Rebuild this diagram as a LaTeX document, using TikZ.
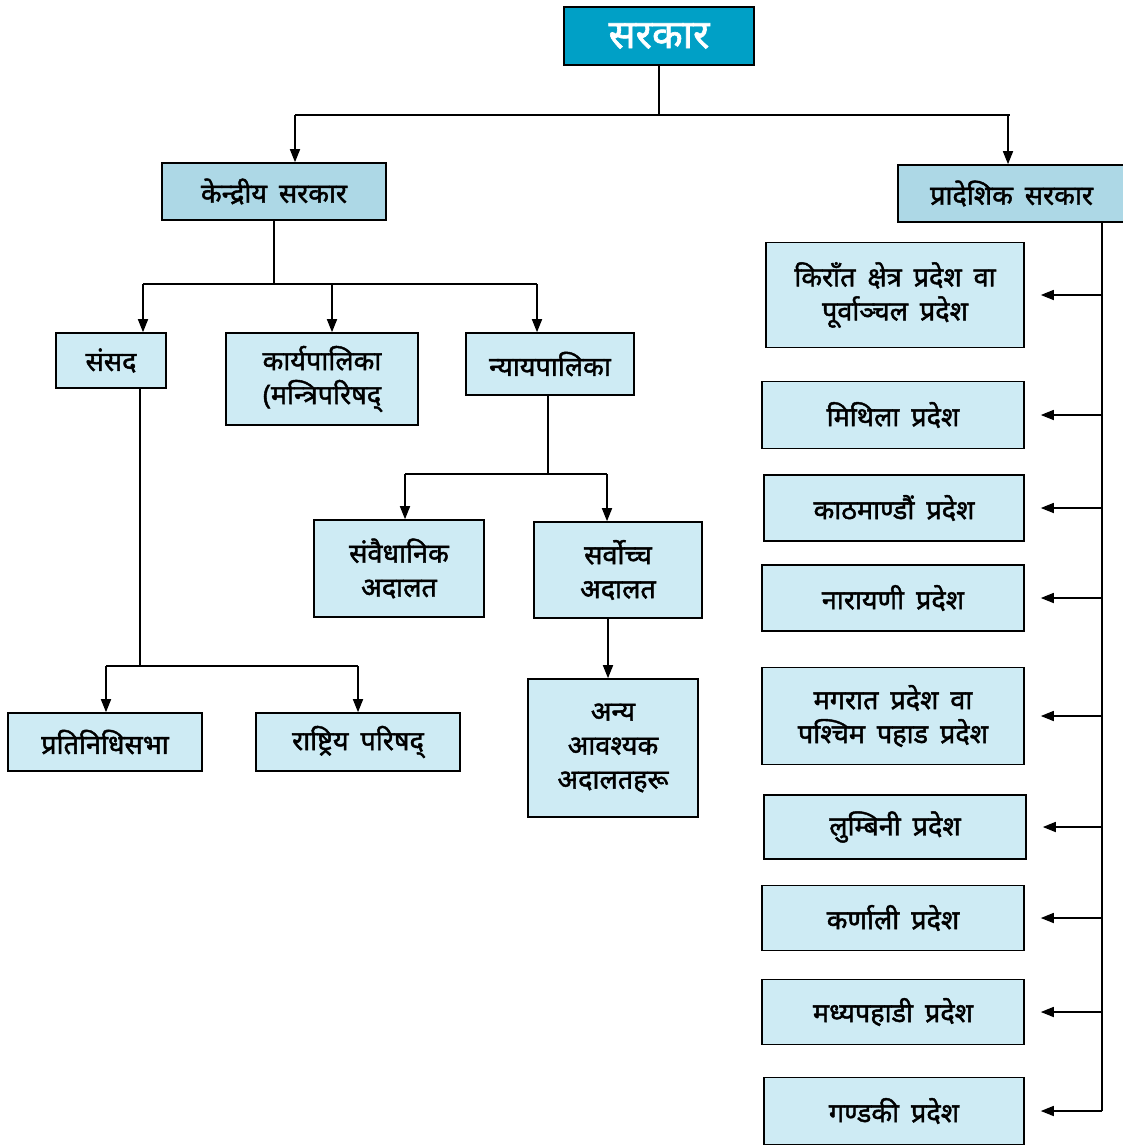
\documentclass[tikz,border=0pt]{standalone}
\usepackage{fontspec}
\newfontfamily\deva[Script=Devanagari,FakeBold=1.6,WordSpace=1.7]{Noto Sans}
\usetikzlibrary{arrows.meta}
\definecolor{topblue}{RGB}{0,160,198}
\definecolor{midblue}{RGB}{173,216,230}
\definecolor{paleblue}{RGB}{206,235,244}
\tikzset{box/.style={draw, line width=1.6pt, fill=paleblue, inner sep=0pt, align=center,
    font=\deva\fontsize{27}{34}\selectfont}}
\tikzset{arr/.style={-{Triangle[length=13pt,width=10pt]}}}

\begin{document}
\begin{tikzpicture}[x=1pt,y=-1pt,line width=1.6pt]
  \useasboundingbox (0,0) rectangle (1123,1146);

  % top levels
  \node[box, fill=topblue, text=white, minimum width=190, minimum height=58,
    font=\deva\fontsize{40}{40}\selectfont] (sarkar) at (659,36) {सरकार};
  \node[box, fill=midblue, minimum width=224, minimum height=57] (kendriya) at (274,191.5) {केन्द्रीय सरकार};
  \node[box, fill=midblue, minimum width=227, minimum height=57] (pradeshik) at (1011.5,193.5) {प्रादेशिक सरकार};

  % central government
  \node[box, minimum width=110, minimum height=55] (sansad) at (111,360.5) {संसद};
  \node[box, minimum width=192, minimum height=92] (karya) at (322,379) {कार्यपालिका\\(मन्त्रिपरिषद्};
  \node[box, minimum width=168, minimum height=62] (nyaya) at (550,364) {न्यायपालिका};
  \node[box, minimum width=170, minimum height=97] (samvai) at (399,568.5) {संवैधानिक\\अदालत};
  \node[box, minimum width=168, minimum height=96] (sarvo) at (618,570) {सर्वोच्च\\अदालत};
  \node[box, minimum width=170, minimum height=138] (anya) at (613,748) {अन्य\\आवश्यक\\अदालतहरू};
  \node[box, minimum width=194, minimum height=58] (pratini) at (105,742) {प्रतिनिधिसभा};
  \node[box, minimum width=204, minimum height=58] (rastriya) at (358,742) {राष्ट्रिय परिषद्};

  % provinces
  \node[box, minimum width=258, minimum height=105] (kirat) at (895,295) {किराँत क्षेत्र प्रदेश वा\\पूर्वाञ्चल प्रदेश};
  \node[box, minimum width=262, minimum height=67] (mithila) at (893,415) {मिथिला प्रदेश};
  \node[box, minimum width=260, minimum height=66] (kathmandu) at (894,508) {काठमाण्डौं प्रदेश};
  \node[box, minimum width=262, minimum height=66] (narayani) at (893,598) {नारायणी प्रदेश};
  \node[box, minimum width=262, minimum height=97] (magarat) at (893,716) {मगरात प्रदेश वा\\पश्चिम पहाड प्रदेश};
  \node[box, minimum width=262, minimum height=64] (lumbini) at (895,827) {लुम्बिनी प्रदेश};
  \node[box, minimum width=262, minimum height=65] (karnali) at (893,918) {कर्णाली प्रदेश};
  \node[box, minimum width=262, minimum height=65] (madhya) at (893,1012) {मध्यपहाडी प्रदेश};
  \node[box, minimum width=260, minimum height=67] (gandaki) at (894,1111) {गण्डकी प्रदेश};

  % sarkar split
  \coordinate (b1l) at (295,115);
  \coordinate (b1r) at (1008,115);
  \draw (sarkar.south) -- (sarkar.south |- b1l);
  \draw (b1l) -- ([xshift=2pt]b1r);
  \draw[arr] (b1l) -- (b1l |- kendriya.north);
  \draw[arr] (b1r) -- (b1r |- pradeshik.north);

  % kendriya split
  \coordinate (b2l) at (143,284);
  \coordinate (b2m) at (332,284);
  \coordinate (b2r) at (537,284);
  \draw (kendriya.south) -- (kendriya.south |- b2l);
  \draw (b2l) -- (b2r);
  \draw[arr] (b2l) -- (b2l |- sansad.north);
  \draw[arr] (b2m) -- (b2m |- karya.north);
  \draw[arr] (b2r) -- (b2r |- nyaya.north);

  % sansad split
  \coordinate (s1) at (140,388);
  \coordinate (b3l) at (106,666);
  \coordinate (b3r) at (358,666);
  \draw (s1) -- (s1 |- b3l);
  \draw (b3l) -- (b3r);
  \draw[arr] (b3l) -- (b3l |- pratini.north);
  \draw[arr] (b3r) -- (b3r |- rastriya.north);

  % nyayapalika split
  \coordinate (n1) at (548,395);
  \coordinate (b4l) at (405,474);
  \coordinate (b4r) at (607,474);
  \draw (n1) -- (n1 |- b4l);
  \draw (b4l) -- (b4r);
  \draw[arr] (b4l) -- (b4l |- samvai.north);
  \draw[arr] (b4r) -- (b4r |- sarvo.north);
  \coordinate (v1) at (608,618);
  \draw[arr] (v1) -- (v1 |- anya.north);

  % province trunk
  \coordinate (ptop) at (1102,222);
  \draw (ptop) -- (ptop |- gandaki.east);
  \foreach \p in {kirat,mithila,kathmandu,narayani,magarat,lumbini,karnali,madhya,gandaki}
    \draw[arr, shorten >=16pt] (ptop |- \p.east) -- (\p.east);
\end{tikzpicture}
\end{document}
